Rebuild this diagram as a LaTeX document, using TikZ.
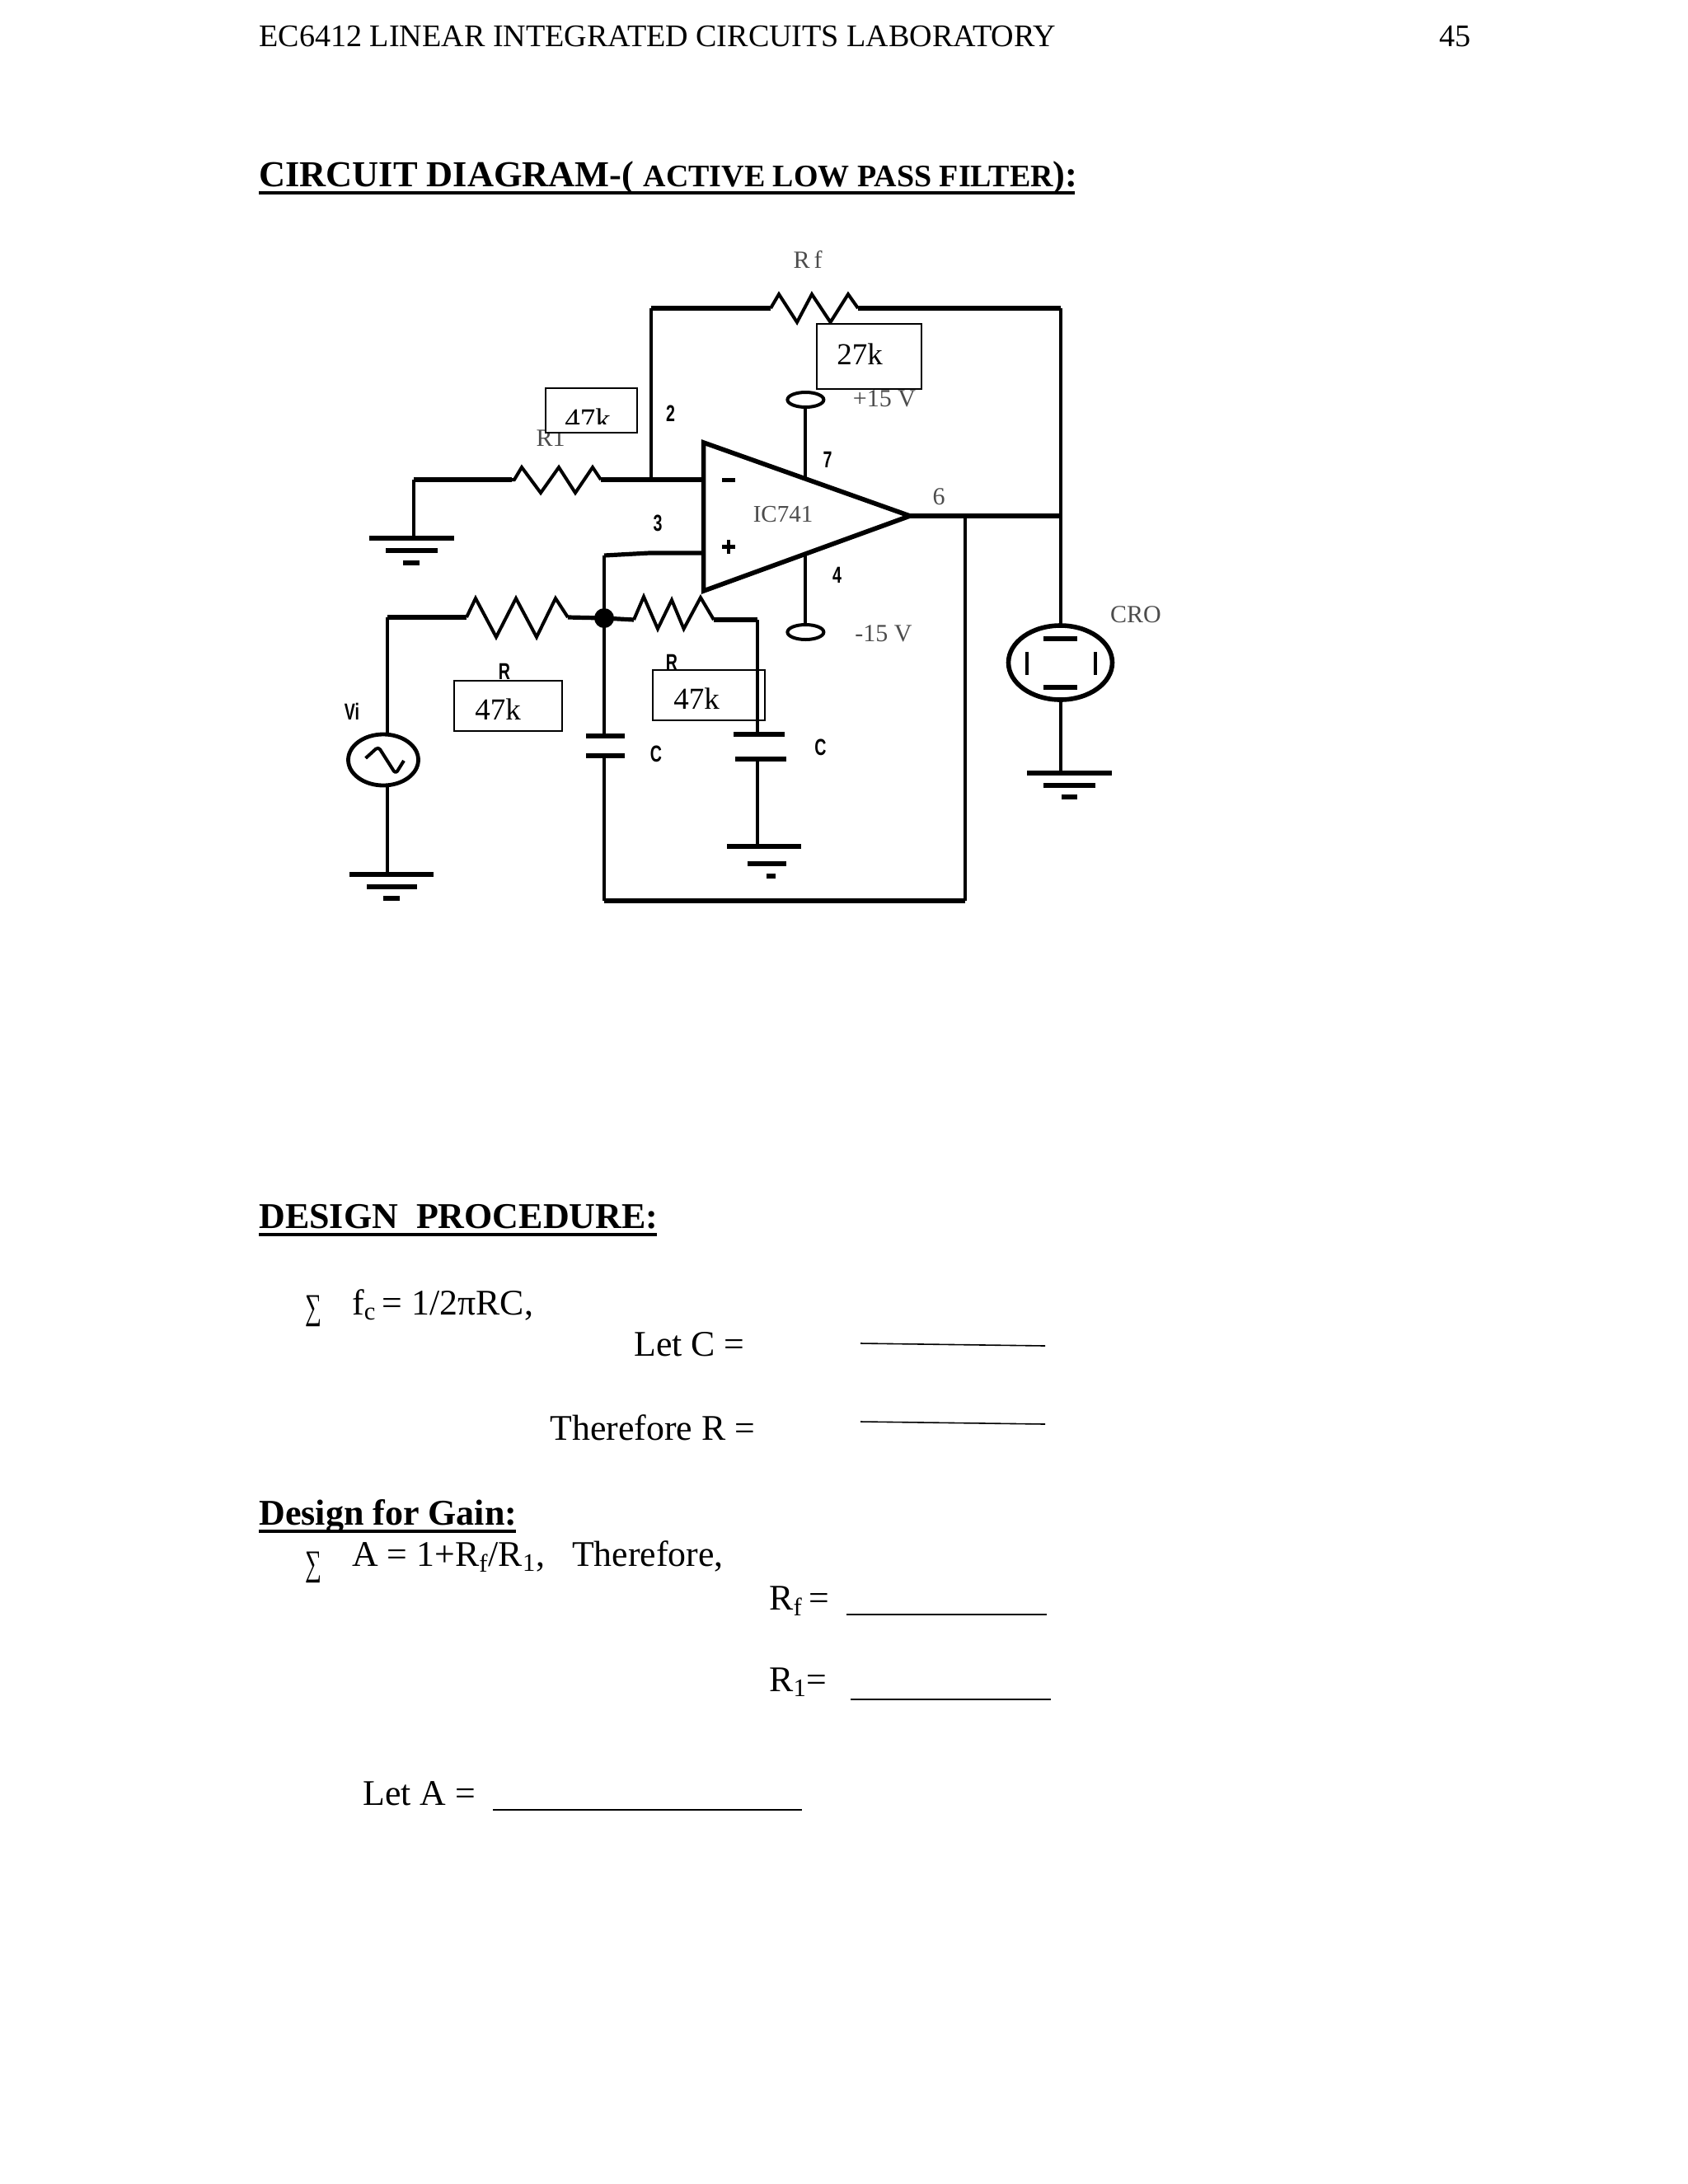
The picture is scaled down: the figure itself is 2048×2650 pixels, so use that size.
\documentclass[tikz,border=0pt]{standalone}
\usepackage{fontspec}
\setmainfont{Liberation Serif}
\newfontfamily\lblfont{Liberation Sans}
\newcommand{\fsz}[1]{\fontsize{#1}{#1}\selectfont}
\newcommand{\boldlbl}[1]{\scalebox{0.7}[1]{\lblfont\bfseries\fsz{14}#1}}
\newcommand{\tallsum}{\scalebox{1}[1.55]{\fsz{14}∑}}
\tikzset{
  x=0.5pt,y=-0.5pt,
  hwire/.style={line width=2.6pt,black},
  vwire/.style={line width=2pt,black},
  zig/.style={line width=2pt,black,line join=miter},
  plate/.style={line width=3pt,black},
  valuebox/.style={draw=black,line width=1pt,inner sep=0pt},
  body/.style={inner sep=0pt,anchor=base west,font=\fsz{21.9}},
  small/.style={inner sep=0pt,anchor=base west,font=\fsz{19.05}},
  head/.style={inner sep=0pt,anchor=base west,font=\fsz{22}\bfseries},
  val/.style={inner sep=0pt,anchor=center,font=\fsz{18.5}},
  pale/.style={inner sep=0pt,text=black!70,font=\fsz{15}},
  bold/.style={inner sep=0pt},
  rule/.style={line width=0.8pt,black},
  headrule/.style={line width=1.6pt,black}
}
\begin{document}
\begin{tikzpicture}
\useasboundingbox (0,0) rectangle (2048,2650);
\fill[white] (0,0) rectangle (2048,2650);

% ---------- page text
\node[small] (hdr) at (314,56) {EC6412 LINEAR INTEGRATED CIRCUITS LABORATORY};
\node[small] (pg) at (1746,56) {45};
\node[head,font=\fsz{22.2}\bfseries] (ttl) at (314,226) {CIRCUIT DIAGRAM-( {\fsz{19}ACTIVE LOW PASS FILTER}):};
\draw[headrule] (ttl.base west)++(0,8) -- ++(990,0);
\node[head] (dp) at (314,1490) {DESIGN\ \ PROCEDURE:};
\draw[headrule] (dp.base west)++(0,8) -- ++(483,0);
\node[body] (s1) at (370,1600) {\tallsum};
\node[body] (fc) at (427,1595) {f\textsubscript{c}\,= 1/2πRC,};
\node[body] (letc) at (769,1645) {Let C =};
\node[body] (therr) at (667,1747) {Therefore R =};
\coordinate (c1a) at (1044,1630); \coordinate (c1b) at (1268,1633);
\coordinate (c2a) at (1044,1725); \coordinate (c2b) at (1268,1728);
\draw[rule] (c1a) -- (c1b);
\draw[rule] (c2a) -- (c2b);
\node[head] (dg) at (314,1850) {Design for Gain:};
\draw[headrule] (dg.base west)++(0,8) -- ++(312,0);
\node[body] (s2) at (370,1911) {\tallsum};
\node[body] (afm) at (427,1900) {A = 1+R\textsubscript{f}/R\textsubscript{1},\ \ \ Therefore,};
\node[body] (rf) at (933,1953) {R\textsubscript{f}\,=};
\coordinate (l3a) at (1027,1959); \coordinate (l3b) at (1270,1959);
\draw[rule] (l3a) -- (l3b);
\node[body] (r1t) at (933,2052) {R\textsubscript{1}=};
\coordinate (l4a) at (1032,2062); \coordinate (l4b) at (1275,2062);
\draw[rule] (l4a) -- (l4b);
\node[body] (leta) at (440,2190) {Let A =};
\coordinate (l5a) at (598,2196); \coordinate (l5b) at (973,2196);
\draw[rule] (l5a) -- (l5b);

% ---------- circuit coordinates
\coordinate (tl) at (853.6,537);
\coordinate (bl) at (853.6,717);
\coordinate (tip) at (1104,626);
\coordinate (fbL) at (790,374);
\coordinate (fbR) at (1286.5,374);
\coordinate (inv) at (790,582);
\coordinate (out) at (1286.5,626);
\coordinate (tap) at (1171,626);
\coordinate (botR) at (1171,1093);
\coordinate (botL) at (733,1093);
\coordinate (j) at (733,750);
\coordinate (noninv) at (853.6,671);
\coordinate (noninvb) at (733,674);
\coordinate (g1) at (502.4,582);
\coordinate (g1b) at (502.4,653);
\coordinate (vit) at (470,749);
\coordinate (vib) at (470,1061);
\coordinate (r2e) at (918.5,752);
\coordinate (c2t) at (918.5,891);
\coordinate (c2g) at (918.5,1027);
\coordinate (v7) at (977.4,582);
\coordinate (v4) at (977.4,673);

% ---------- wires
\draw[vwire] (fbL) -- (inv);
\draw[vwire] (g1) -- (g1b);
\draw[hwire] (g1) -- (621,582);
\draw[zig] (621,582) -- (624,582) -- (633,567) -- (656,598) -- (678,567) -- (698,598) -- (719,567) -- (729,582);
\draw[hwire] (729,582) -- (853,582);
\draw[hwire] (fbL) -- (935,374);
\draw[zig] (935,374) -- (945,357) -- (967,391) -- (985,357) -- (1007.5,391) -- (1029,357) -- (1041,374);
\draw[hwire] (1041,374) -- (fbR);
\draw[vwire] (fbR) -- (1286.5,759);
\draw[hwire] (tip) -- (out);
\draw[vwire] (tap) -- (botR);
\draw[hwire] (botR) -- (botL);
\draw[vwire] (j) -- (733,893);
\draw[vwire] (733,917) -- (botL);
\draw[vwire] (noninvb) -- (j);
\draw[hwire] (noninv) -- (788,671) -- (noninvb);
\draw[vwire] (vit) -- (470,892);
\draw[hwire] (vit) -- (566,749);
\draw[zig] (566,749) -- (577,726) -- (602,773) -- (626,726) -- (651,773) -- (674,726) -- (689,749);
\draw[hwire] (689,749) -- (j);
\draw[hwire] (j) -- (769,752);
\draw[zig] (769,752) -- (781,724) -- (798,763) -- (815,728) -- (829.6,763) -- (850,725) -- (866,752);
\draw[hwire] (866,752) -- (r2e);
\draw[vwire] (r2e) -- (c2t);
\draw[vwire] (918.5,921) -- (c2g);
\draw[vwire] (vib) -- (470,953);
\draw[vwire] (v7) -- (977.4,494);
\draw[vwire] (v4) -- (977.4,758);
\draw[vwire] (1286.5,849) -- (1286.5,938);

% junction
\fill (j) ellipse [x radius=12, y radius=12];

% op-amp
\draw[line width=2.8pt,line join=miter] (tl) -- (tip) -- (bl) -- cycle;
\fill (876,580) rectangle (892,585);
\fill (876,661) rectangle (892,666);
\fill (882,655) rectangle (886,672);
\node[pale,font=\fsz{14.5}] (ic) at (950,624) {IC741};

% supply rails
\draw[line width=2pt] (977.4,485) ellipse [x radius=22, y radius=9];
\draw[line width=2pt] (977.4,767) ellipse [x radius=22, y radius=9];
\node[pale] (p15) at (1073,484) {+15 V};
\node[pale] (m15) at (1072,769) {-15 V};

% grounds
\draw[plate] (448,653) -- (551,653);
\draw[plate] (468,668) -- (530.5,668);
\draw[plate] (489,683) -- (509,683);
\draw[plate] (424,1061) -- (526,1061);
\draw[plate] (445,1076) -- (506,1076);
\draw[plate] (465,1090) -- (485,1090);
\draw[plate] (882,1027) -- (972,1027);
\draw[plate] (906.5,1048) -- (954,1048);
\draw[plate] (930,1063) -- (941,1063);
\draw[plate] (1246,938) -- (1349,938);
\draw[plate] (1266,953) -- (1329,953);
\draw[plate] (1288,967) -- (1306.6,967);

% capacitors
\draw[plate] (711,893) -- (758,893);
\draw[plate] (711,917) -- (758,917);
\draw[plate] (890,891) -- (952,891);
\draw[plate] (892,921) -- (954,921);

% source
\draw[line width=2.4pt] (465,922) ellipse [x radius=42.5, y radius=31];
\draw[line width=2pt,line join=round,rounded corners=2pt] (443.6,920) -- (459,906) -- (480,939) -- (490,923);

% CRO
\draw[line width=2.8pt] (1286.5,804) ellipse [x radius=63, y radius=45];
\draw[line width=2.6pt] (1266.4,775) -- (1306.6,775);
\draw[line width=2.6pt] (1266.4,834) -- (1306.6,834);
\draw[line width=2pt] (1246,791) -- (1246,819);
\draw[line width=2pt] (1328.6,791) -- (1328.6,819);
\node[pale] (cro) at (1378,746) {CRO};

% labels
\node[pale] (rft) at (980,315) {R\,f};
\node[pale] (pin6) at (1139,603) {6};
\node[bold] (pin2) at (813.5,502) {\boldlbl{2}};
\node[bold] (pin3) at (798,635) {\boldlbl{3}};
\node[bold] (pin7) at (1004,558) {\boldlbl{7}};
\node[bold] (pin4) at (1015.5,698) {\boldlbl{4}};
\node[bold] (vi) at (427,863) {\boldlbl{Vi}};
\node[bold] (capa) at (796,915) {\boldlbl{C}};
\node[bold] (capb) at (995.5,907) {\boldlbl{C}};
\node[bold] (rl1) at (612,815) {\boldlbl{R}};
\node[bold] (rl2) at (815,804) {\boldlbl{R}};
\node[pale] (r1l) at (668,532) {R1};

% value boxes (sizes in pt: half the pixel size)
\node[valuebox,fill=white,minimum width=63.5pt,minimum height=39.5pt] (b27) at (1054.5,432.5) {};
\node[val] (t27) at (1043,430) {27k};
\node[valuebox,fill=white,minimum width=55.5pt,minimum height=27pt] (b47a) at (717,498) {};
\begin{scope}
\clip (655,465) rectangle (770,514);
\node[val] (t47a) at (713,509) {47k};
\end{scope}
\node[valuebox,minimum width=65.5pt,minimum height=30.5pt] (b47b) at (616.5,856.5) {};
\node[val] (t47b) at (604,861) {47k};
\node[valuebox,minimum width=68pt,minimum height=30.5pt] (b47c) at (860,843.5) {};
\node[val] (t47c) at (845,848) {47k};
\end{tikzpicture}
\end{document}
